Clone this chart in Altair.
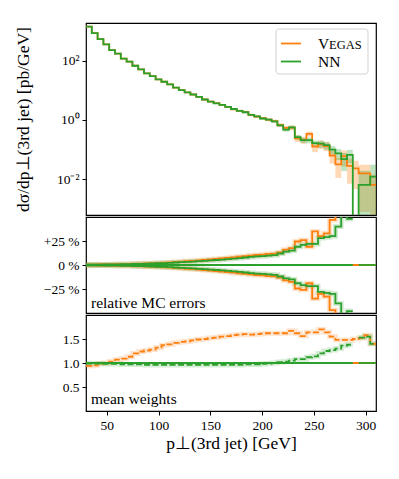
import numpy as np
import pandas as pd
import altair as alt

# ---------------- data ----------------
BIN_LOW, BIN_HIGH, N_BINS = 30.0, 310.0, 50
edges = list(np.linspace(BIN_LOW, BIN_HIGH, N_BINS + 1))

series_names = ["Vegas", "NN"]

# differential cross section [pb/GeV] per bin
dsig_vegas = [1413, 851, 537, 355, 229, 174, 117, 93.3, 67.6, 51.3,
              37.2, 30.2, 23.4, 19.5, 15.8, 12.3, 10.2, 8.51, 7.24, 6.03,
              4.90, 4.17, 3.70, 3.24, 2.75, 2.30, 2.04, 1.86, 1.48, 1.30,
              1.15, 1.02, 0.912, 0.676, 0.537, 0.550, 0.240, 0.214, 0.339, 0.126,
              0.151, 0.132, 0.0631, 0.0316, 0.0603, 0.0282, 0.0234, 0.0158, 0.0158, 0.00646]
dsig_nn = [1413, 851, 537, 355, 229, 174, 117, 93.3, 67.6, 51.3,
           37.2, 30.2, 23.4, 19.5, 15.8, 12.3, 10.2, 8.51, 7.24, 6.03,
           4.90, 4.17, 3.63, 3.24, 2.75, 2.34, 2.04, 1.82, 1.48, 1.32,
           1.12, 1.02, 0.891, 0.661, 0.468, 0.562, 0.263, 0.209, 0.209, 0.166,
           0.158, 0.141, 0.100, 0.0741, 0.0479, 0.0661, 0.0, 0.00646, 0.00646, 0.0123]

# relative MC errors
err_vegas = [.003, .004, .005, .006, .007, .008, .010, .011, .013, .015,
             .017, .019, .021, .024, .027, .031, .035, .039, .043, .048,
             .053, .058, .063, .068, .074, .080, .086, .092, .098, .104,
             .108, .115, .118, .130, .160, .175, .245, .260, .190, .350,
             .300, .330, .470, .650, .550, .750, .800, .950, .950, 1.20]
err_nn = [.003, .003, .004, .005, .006, .007, .008, .009, .011, .012,
          .014, .016, .018, .020, .023, .026, .029, .033, .036, .040,
          .044, .048, .052, .057, .062, .067, .072, .078, .084, .090,
          .092, .098, .102, .120, .140, .150, .190, .210, .220, .220,
          .280, .290, .300, .400, .600, .480, None, 2.0, 2.0, 1.5]

# mean weights
wmean_vegas = [0.94, 0.95, 0.99, 1.00, 1.03, 1.07, 1.09, 1.13, 1.20, 1.24,
               1.26, 1.28, 1.32, 1.37, 1.39, 1.42, 1.44, 1.45, 1.47, 1.49,
               1.50, 1.52, 1.53, 1.55, 1.56, 1.58, 1.59, 1.60, 1.59, 1.60,
               1.61, 1.62, 1.62, 1.62, 1.62, 1.67, 1.62, 1.56, 1.64, 1.64,
               1.70, 1.64, 1.55, 1.48, 1.48, 1.48, 1.50, 1.52, 1.58, 1.40]
wmean_nn = [0.99, 0.99, 0.99, 0.98, 0.98, 0.98, 0.97, 0.97, 0.97, 0.97,
            0.96, 0.96, 0.96, 0.96, 0.96, 0.96, 0.96, 0.96, 0.96, 0.96,
            0.96, 0.96, 0.96, 0.96, 0.96, 0.96, 0.96, 0.97, 0.97, 0.97,
            0.98, 0.99, 1.00, 1.02, 1.03, 1.05, 1.08, 1.08, 1.12, 1.14,
            1.20, 1.25, 1.27, 1.30, 1.36, 1.38, None, 1.53, 1.55, 1.40]

ORANGE = "#ff7f0e"
GREEN = "#2ca02c"
FONT = "Liberation Serif"
FLOOR = 1e-9


def steps(vals, name, floor=None):
    rows, seg, last = [], 0, None
    for i, v in enumerate(vals):
        if v is None:
            if last is not None:
                rows.append(dict(x=edges[i], y=last, key=f"{name}{seg}"))
                seg += 1
                last = None
            continue
        if floor is not None and v <= 0:
            v = floor
        rows.append(dict(x=edges[i], y=v, key=f"{name}{seg}"))
        last = v
    if last is not None:
        rows.append(dict(x=edges[-1], y=last, key=f"{name}{seg}"))
    return pd.DataFrame(rows)


def band_rows(vals, errs):
    rows = []
    for i, (v, e) in enumerate(zip(vals, errs)):
        if e is None or v <= 0:
            continue
        rows.append(dict(x=edges[i], x2=edges[i + 1],
                         lo=max(v * (1 - e), FLOOR), hi=v * (1 + e)))
    return pd.DataFrame(rows)


xs = alt.Scale(domain=[BIN_LOW, BIN_HIGH], nice=False, zero=False)
x_axis_bottom = alt.Axis(values=[50, 100, 150, 200, 250, 300], format="d",
                         title="p⊥(3rd jet) [GeV]", titlePadding=3)


def line(df, color, ys, yaxis, xaxis=None, dash=None, width=1.8, opacity=1.0):
    kw = dict(interpolate="step-after", clip=True, color=color,
              strokeWidth=width, opacity=opacity)
    if dash:
        kw["strokeDash"] = dash
    return alt.Chart(df).mark_line(**kw).encode(
        x=alt.X("x:Q", scale=xs, axis=xaxis),
        y=alt.Y("y:Q", scale=ys, axis=yaxis),
        detail="key:N",
    )


# ---------------- top panel ----------------
ys_top = alt.Scale(type="log", domain=[6.2e-4, 1.87e3], nice=False)
yaxis_top = alt.Axis(values=[0.01, 1, 100],
                     labelExpr="datum.value >= 50 ? '10²' : (datum.value >= 0.5 ? '10⁰' : '10⁻²')",
                     title="dσ/dp⊥(3rd jet) [pb/GeV]", titlePadding=24)


def band(vals, errs, color):
    return alt.Chart(band_rows(vals, errs)).mark_rect(clip=True, color=color, opacity=0.3).encode(
        x=alt.X("x:Q", scale=xs, axis=None), x2="x2:Q",
        y=alt.Y("lo:Q", scale=ys_top, axis=yaxis_top), y2="hi:Q",
    )


one = pd.DataFrame({"name": series_names})
legend_box = alt.Chart(one.head(1)).mark_rect(
    fill="white", opacity=0.85, stroke="#cccccc", strokeWidth=1, cornerRadius=3
).encode(x=alt.value(190), x2=alt.value(282), y=alt.value(6), y2=alt.value(51))
leg_line_v = alt.Chart(one.head(1)).mark_rule(color=ORANGE, strokeWidth=1.8).encode(
    x=alt.value(195), x2=alt.value(215), y=alt.value(20.5))
leg_line_n = alt.Chart(one.head(1)).mark_rule(color=GREEN, strokeWidth=1.8).encode(
    x=alt.value(195), x2=alt.value(215), y=alt.value(38.5))
leg_v1 = alt.Chart(pd.DataFrame({"t": [series_names[0][0]]})).mark_text(
    font=FONT, fontSize=15.5, align="left", baseline="alphabetic", color="black"
).encode(text="t:N", x=alt.value(232), y=alt.value(26))
leg_v2 = alt.Chart(pd.DataFrame({"t": [series_names[0][1:].upper()]})).mark_text(
    font=FONT, fontSize=12.5, align="left", baseline="alphabetic", color="black"
).encode(text="t:N", x=alt.value(243), y=alt.value(26))
leg_n = alt.Chart(pd.DataFrame({"t": [series_names[1]]})).mark_text(
    font=FONT, fontSize=15.5, align="left", baseline="alphabetic", color="black"
).encode(text="t:N", x=alt.value(232), y=alt.value(44))

top = alt.layer(
    band(dsig_vegas, err_vegas, ORANGE),
    band(dsig_nn, err_nn, GREEN),
    line(steps(dsig_vegas, "v", FLOOR), ORANGE, ys_top, yaxis_top),
    line(steps(dsig_nn, "n", FLOOR), GREEN, ys_top, yaxis_top),
    legend_box, leg_line_v, leg_line_n, leg_v1, leg_v2, leg_n,
).properties(width=290, height=192)

# ---------------- middle panel ----------------
ys_mid = alt.Scale(domain=[-0.5, 0.5], nice=False, zero=False)
yaxis_mid = alt.Axis(values=[-0.25, 0, 0.25],
                     labelExpr="datum.value > 0.1 ? '+25 %' : (datum.value < -0.1 ? '\u221225 %' : '0 %')",
                     title=None)


def pm(errs, sign):
    return [None if e is None else sign * e for e in errs]


def zero_of(errs, base):
    return [None if e is None else base for e in errs]


mid_layers = []
for errs, col, nm in [(err_vegas, ORANGE, "v"), (err_nn, GREEN, "n")]:
    for sgn in (1, -1):
        mid_layers.append(line(steps(pm(errs, sgn), nm), col, ys_mid, yaxis_mid, width=5, opacity=0.22))
for errs, col, nm in [(err_vegas, ORANGE, "v"), (err_nn, GREEN, "n")]:
    for sgn in (1, -1):
        mid_layers.append(line(steps(pm(errs, sgn), nm), col, ys_mid, yaxis_mid))
    mid_layers.append(line(steps(zero_of(errs, 0.0), nm), col, ys_mid, yaxis_mid))

mid_text = alt.Chart(pd.DataFrame({"t": ["relative MC errors"]})).mark_text(
    font=FONT, fontSize=15.5, align="left", baseline="alphabetic", color="black"
).encode(text="t:N", x=alt.value(5), y=alt.value(91))

mid = alt.layer(*mid_layers, mid_text).properties(width=290, height=96)

# ---------------- bottom panel ----------------
ys_bot = alt.Scale(domain=[0, 2], nice=False, zero=False)
yaxis_bot = alt.Axis(values=[0.5, 1.0, 1.5], format=".1f", title=None)

bot_layers = []
for w, col, nm in [(wmean_vegas, ORANGE, "v"), (wmean_nn, GREEN, "n")]:
    bot_layers.append(line(steps(w, nm), col, ys_bot, yaxis_bot, xaxis=x_axis_bottom, width=5, opacity=0.2))
for w, col, nm in [(wmean_vegas, ORANGE, "v"), (wmean_nn, GREEN, "n")]:
    bot_layers.append(line(steps(zero_of(w, 1.0), nm), col, ys_bot, yaxis_bot, xaxis=x_axis_bottom))
    bot_layers.append(line(steps(w, nm), col, ys_bot, yaxis_bot, xaxis=x_axis_bottom, dash=[6, 2.5]))

bot_text = alt.Chart(pd.DataFrame({"t": ["mean weights"]})).mark_text(
    font=FONT, fontSize=15.5, align="left", baseline="alphabetic", color="black"
).encode(text="t:N", x=alt.value(5), y=alt.value(89))

bot = alt.layer(*bot_layers, bot_text).properties(width=290, height=96)

chart = alt.vconcat(top, mid, bot, spacing=0).properties(
    padding={"left": 5, "top": 14, "right": 5, "bottom": 5}
).configure_view(
    stroke="black", strokeWidth=1.2
).configure_axis(
    labelFont=FONT, labelFontSize=13.5, labelColor="black",
    titleFont=FONT, titleFontSize=17.5, titleFontWeight="normal", titleColor="black",
    tickColor="black", tickSize=4, tickWidth=1, labelPadding=3,
    domain=False, grid=False,
)

chart.save("out.html", embed_options={"renderer": "svg", "actions": False})
